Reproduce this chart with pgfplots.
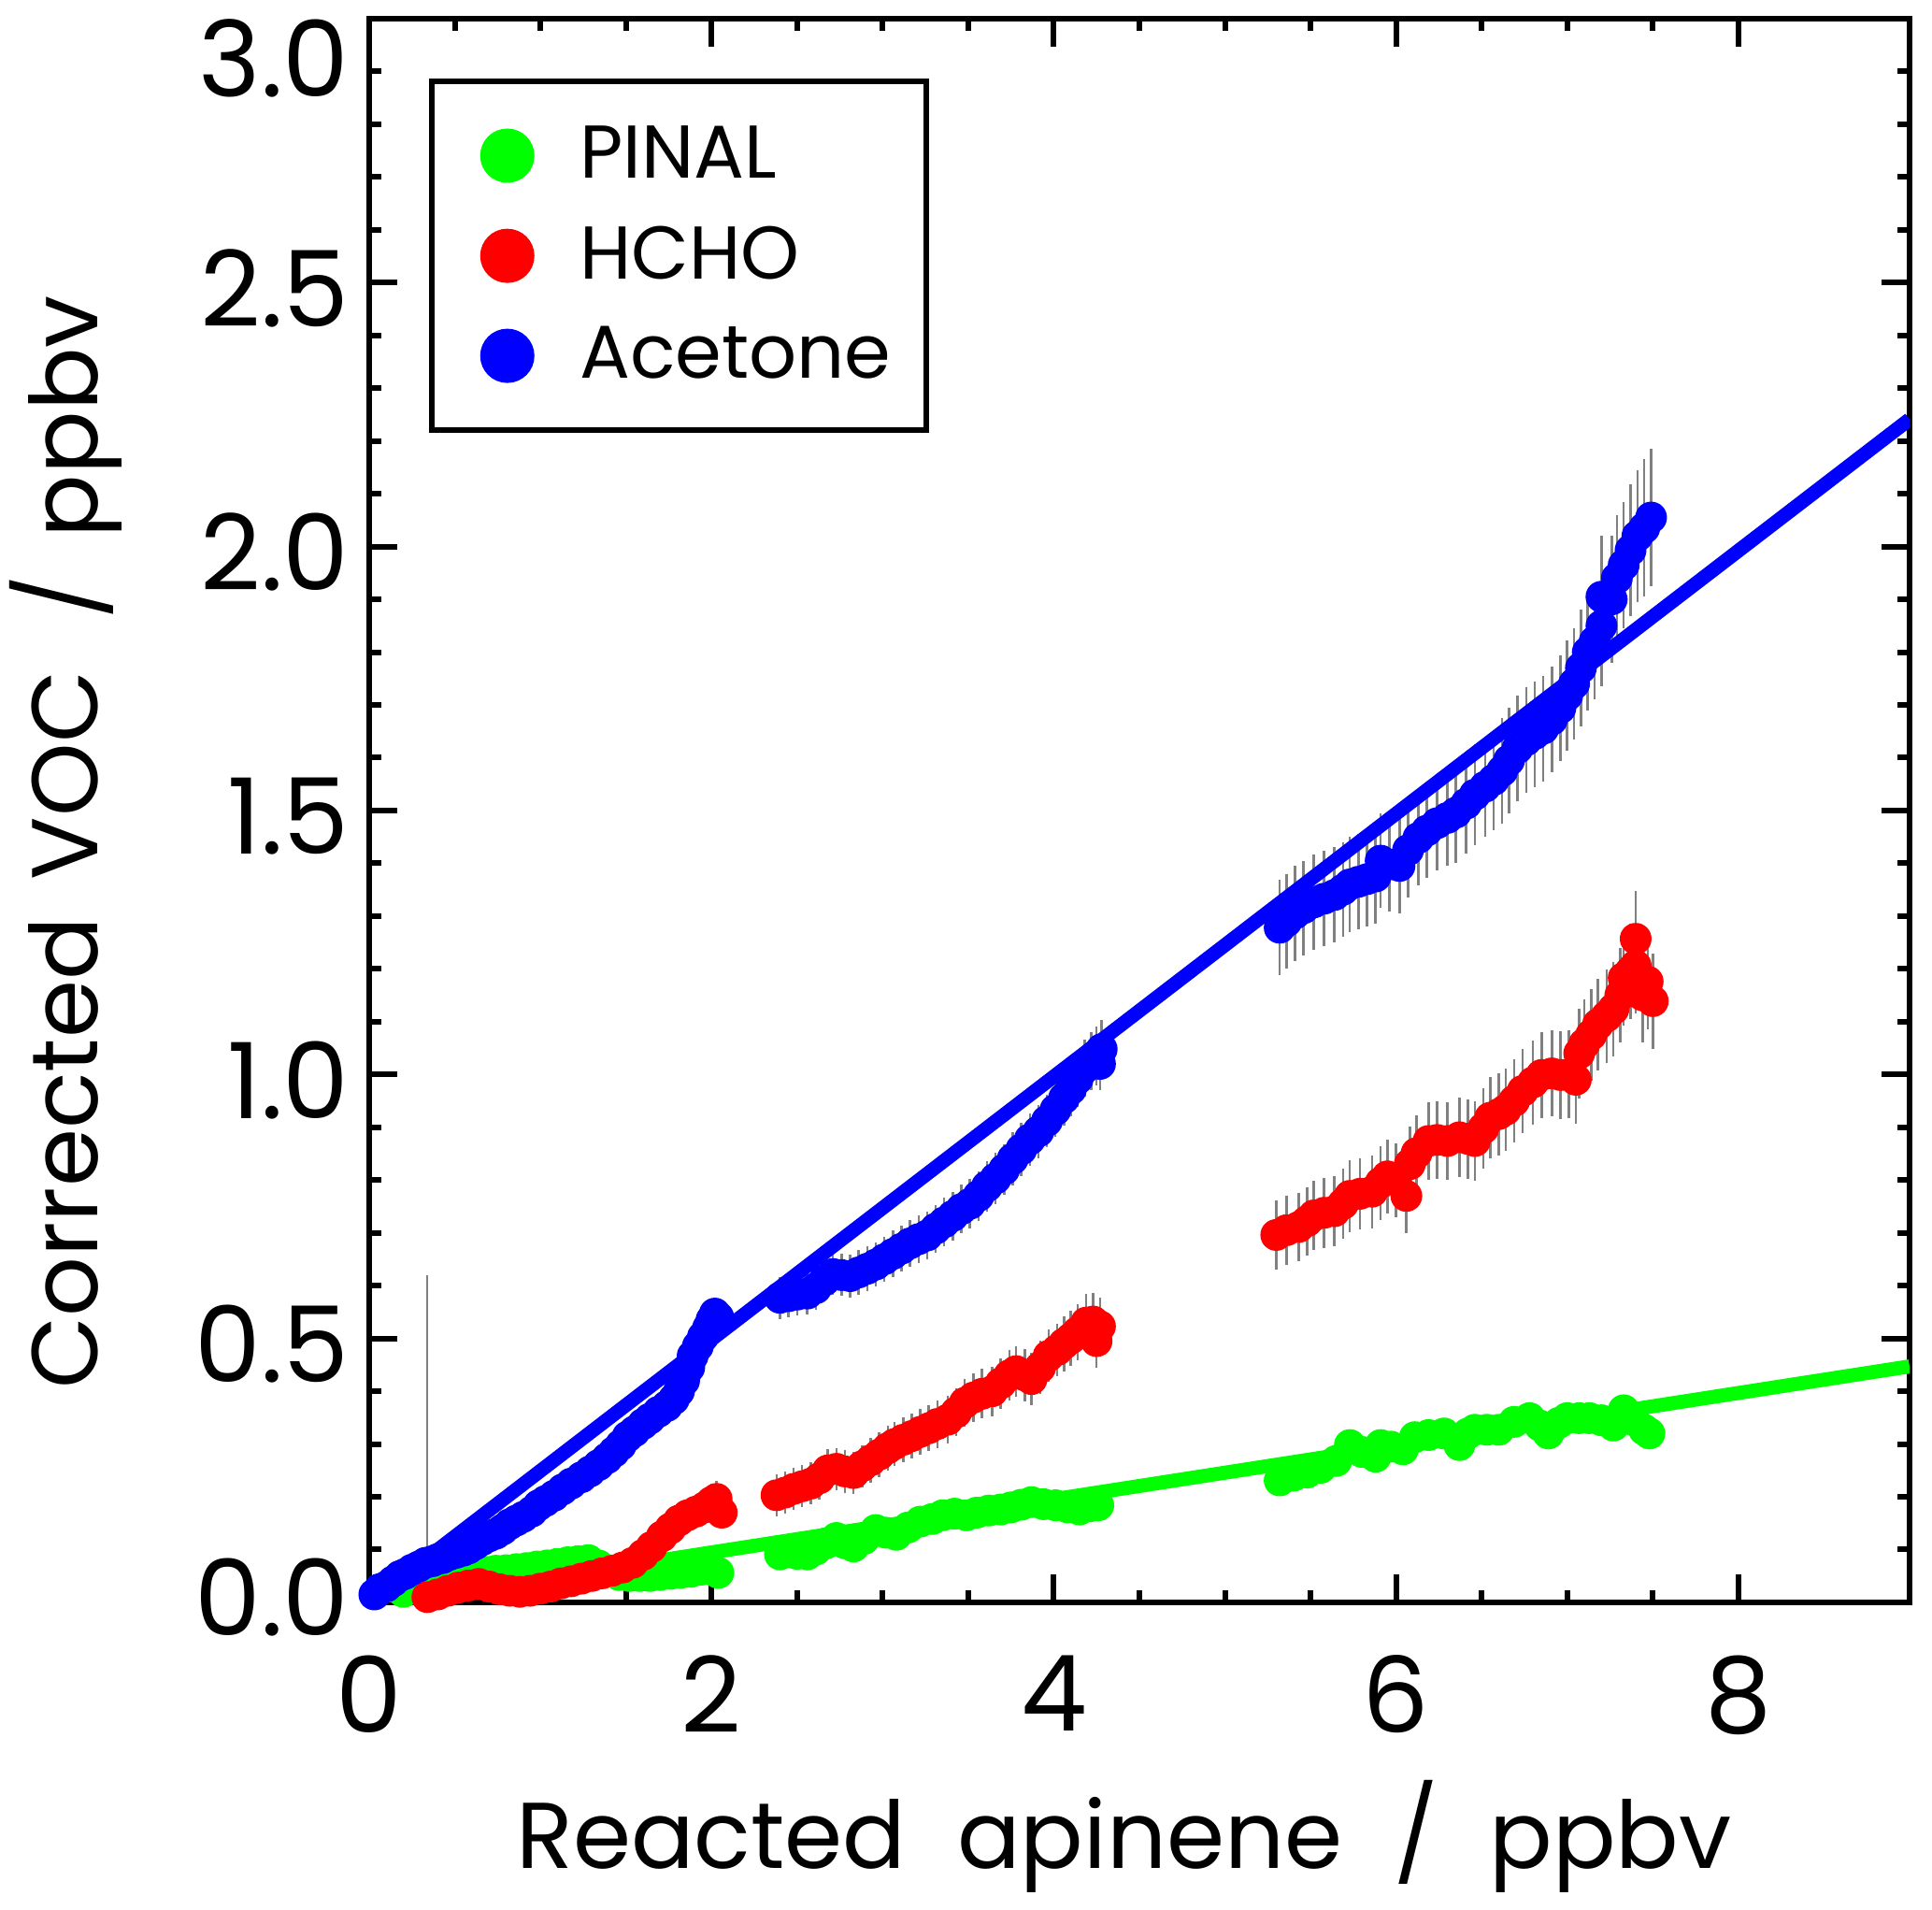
\documentclass[border=0pt]{standalone}
\usepackage{pgfplots}
\pgfplotsset{compat=1.18}
\usepackage{pgfplotstable}
\usepackage{fontspec}
\setmainfont{Poppins}
\definecolor{pgreen}{RGB}{0,255,0}
\definecolor{pred}{RGB}{255,0,0}
\definecolor{pblue}{RGB}{0,0,255}
\definecolor{ebar}{RGB}{128,128,128}

\pgfplotstableread{
x y e
0.03 0.015 0.01
0.06 0.025 0.01
0.10 0.030 0.01
0.14 0.040 0.01
0.18 0.050 0.01
0.21 0.054 0.01
0.25 0.062 0.01
0.29 0.068 0.01
0.33 0.075 0.01
0.37 0.078 0.01
0.40 0.082 0.01
0.43 0.084 0.01
0.47 0.090 0.01
0.51 0.094 0.01
0.55 0.098 0.01
0.58 0.102 0.01
0.62 0.110 0.01
0.66 0.118 0.01
0.70 0.125 0.01
0.74 0.130 0.012
0.78 0.138 0.012
0.82 0.148 0.012
0.86 0.155 0.012
0.90 0.162 0.012
0.95 0.172 0.012
0.99 0.184 0.012
1.03 0.192 0.012
1.08 0.202 0.014
1.13 0.214 0.014
1.18 0.225 0.014
1.24 0.237 0.014
1.29 0.248 0.015
1.34 0.260 0.015
1.39 0.273 0.015
1.43 0.285 0.016
1.47 0.298 0.016
1.51 0.314 0.016
1.55 0.324 0.017
1.60 0.338 0.017
1.64 0.348 0.018
1.69 0.361 0.018
1.74 0.372 0.018
1.78 0.385 0.020
1.81 0.400 0.020
1.84 0.420 0.020
1.87 0.445 0.020
1.89 0.467 0.022
1.92 0.485 0.022
1.95 0.503 0.025
1.98 0.520 0.025
2.00 0.535 0.030
2.02 0.547 0.030
2.04 0.540 0.030
2.40 0.577 0.040
2.45 0.580 0.040
2.50 0.583 0.040
2.56 0.585 0.040
2.61 0.595 0.040
2.66 0.610 0.040
2.71 0.622 0.040
2.76 0.620 0.040
2.81 0.618 0.040
2.86 0.625 0.042
2.91 0.632 0.042
2.96 0.640 0.042
3.01 0.650 0.042
3.06 0.660 0.044
3.11 0.670 0.044
3.16 0.680 0.044
3.21 0.688 0.045
3.26 0.695 0.045
3.31 0.708 0.045
3.36 0.720 0.046
3.41 0.732 0.046
3.46 0.745 0.046
3.51 0.755 0.047
3.56 0.770 0.047
3.61 0.788 0.048
3.66 0.803 0.048
3.71 0.820 0.048
3.76 0.840 0.050
3.81 0.858 0.050
3.86 0.877 0.050
3.91 0.892 0.050
3.96 0.912 0.050
4.01 0.933 0.052
4.06 0.955 0.052
4.10 0.972 0.052
4.14 0.992 0.053
4.18 1.012 0.054
4.22 1.025 0.055
4.25 1.035 0.055
4.28 1.048 0.055
4.27 1.020 0.050
5.32 1.278 0.090
5.36 1.290 0.090
5.41 1.305 0.090
5.46 1.315 0.090
5.52 1.326 0.090
5.58 1.333 0.090
5.64 1.340 0.090
5.69 1.350 0.090
5.73 1.360 0.090
5.78 1.365 0.090
5.83 1.370 0.090
5.88 1.375 0.090
5.91 1.405 0.090
5.96 1.398 0.090
6.02 1.395 0.090
6.07 1.425 0.090
6.13 1.448 0.090
6.18 1.462 0.090
6.24 1.476 0.090
6.30 1.486 0.090
6.35 1.496 0.095
6.41 1.513 0.095
6.46 1.530 0.095
6.52 1.545 0.095
6.57 1.558 0.095
6.62 1.575 0.100
6.66 1.595 0.100
6.71 1.618 0.100
6.76 1.633 0.100
6.81 1.645 0.100
6.86 1.655 0.100
6.91 1.672 0.100
6.96 1.694 0.100
7.00 1.718 0.105
7.04 1.740 0.105
7.08 1.770 0.110
7.12 1.800 0.110
7.16 1.820 0.110
7.20 1.850 0.115
7.20 1.905 0.115
7.26 1.900 0.120
7.29 1.940 0.120
7.33 1.965 0.120
7.37 1.993 0.125
7.41 2.020 0.125
7.45 2.035 0.130
7.49 2.055 0.130
}\acetone

\pgfplotstableread{
x y e
0.34 0.010 0.610
0.40 0.015 0.010
0.46 0.022 0.010
0.52 0.028 0.010
0.58 0.032 0.010
0.64 0.035 0.010
0.70 0.030 0.010
0.76 0.025 0.010
0.82 0.022 0.010
0.88 0.020 0.010
0.94 0.022 0.012
1.00 0.026 0.012
1.06 0.030 0.012
1.12 0.036 0.012
1.18 0.040 0.014
1.24 0.045 0.014
1.30 0.050 0.015
1.36 0.055 0.015
1.42 0.060 0.016
1.48 0.066 0.018
1.54 0.075 0.020
1.60 0.090 0.020
1.65 0.105 0.022
1.71 0.125 0.025
1.76 0.140 0.025
1.81 0.155 0.028
1.86 0.165 0.030
1.91 0.172 0.030
1.96 0.180 0.032
2.00 0.190 0.035
2.03 0.196 0.035
2.06 0.170 0.030
2.38 0.203 0.040
2.43 0.208 0.040
2.48 0.215 0.040
2.53 0.220 0.040
2.58 0.225 0.040
2.63 0.235 0.040
2.68 0.250 0.040
2.73 0.253 0.040
2.78 0.248 0.040
2.83 0.245 0.040
2.88 0.258 0.040
2.93 0.269 0.042
2.98 0.280 0.042
3.03 0.292 0.042
3.07 0.300 0.042
3.12 0.308 0.043
3.17 0.315 0.043
3.22 0.323 0.044
3.27 0.330 0.044
3.32 0.338 0.045
3.38 0.346 0.045
3.43 0.360 0.045
3.48 0.378 0.046
3.53 0.388 0.046
3.58 0.395 0.047
3.64 0.400 0.047
3.69 0.415 0.048
3.74 0.430 0.048
3.78 0.438 0.048
3.83 0.430 0.050
3.87 0.423 0.050
3.92 0.445 0.050
3.97 0.467 0.050
4.02 0.478 0.050
4.06 0.490 0.052
4.10 0.500 0.052
4.14 0.512 0.053
4.19 0.530 0.054
4.23 0.532 0.055
4.27 0.523 0.055
4.25 0.495 0.050
5.30 0.696 0.065
5.36 0.705 0.065
5.43 0.711 0.065
5.48 0.722 0.065
5.52 0.733 0.066
5.58 0.738 0.066
5.64 0.741 0.067
5.69 0.755 0.067
5.73 0.770 0.068
5.79 0.774 0.068
5.86 0.778 0.069
5.91 0.795 0.070
5.95 0.807 0.070
6.00 0.800 0.070
6.06 0.770 0.070
6.08 0.830 0.072
6.12 0.851 0.072
6.19 0.874 0.073
6.24 0.876 0.073
6.30 0.874 0.074
6.37 0.881 0.075
6.42 0.878 0.075
6.46 0.874 0.075
6.51 0.898 0.076
6.55 0.918 0.077
6.60 0.925 0.078
6.64 0.933 0.078
6.69 0.950 0.079
6.74 0.969 0.080
6.80 0.985 0.080
6.85 0.999 0.081
6.91 1.002 0.082
6.96 0.999 0.083
7.01 1.000 0.083
7.05 0.990 0.084
7.07 1.040 0.085
7.10 1.058 0.085
7.14 1.075 0.086
7.18 1.095 0.087
7.23 1.110 0.088
7.27 1.124 0.089
7.31 1.150 0.090
7.33 1.183 0.090
7.37 1.195 0.090
7.40 1.206 0.090
7.40 1.257 0.090
7.44 1.150 0.090
7.47 1.176 0.090
7.50 1.139 0.090
}\hcho

\pgfplotstableread{
x y e
0.20 0.020 0.010
0.26 0.028 0.010
0.32 0.035 0.010
0.38 0.042 0.010
0.44 0.048 0.010
0.50 0.052 0.010
0.56 0.054 0.010
0.62 0.056 0.010
0.68 0.058 0.010
0.74 0.060 0.010
0.80 0.061 0.010
0.86 0.063 0.010
0.92 0.065 0.010
0.98 0.068 0.010
1.04 0.070 0.010
1.10 0.073 0.010
1.16 0.076 0.010
1.22 0.078 0.010
1.28 0.080 0.010
1.34 0.070 0.010
1.40 0.060 0.010
1.46 0.052 0.010
1.52 0.050 0.010
1.58 0.050 0.010
1.64 0.050 0.010
1.70 0.052 0.010
1.76 0.054 0.010
1.82 0.056 0.010
1.88 0.058 0.010
1.94 0.062 0.010
2.00 0.062 0.010
2.04 0.056 0.010
2.40 0.091 0.015
2.45 0.095 0.015
2.50 0.092 0.015
2.56 0.091 0.015
2.61 0.100 0.015
2.67 0.112 0.015
2.73 0.122 0.015
2.78 0.112 0.015
2.83 0.106 0.015
2.89 0.120 0.015
2.96 0.137 0.015
3.02 0.132 0.015
3.08 0.128 0.015
3.15 0.142 0.015
3.22 0.153 0.015
3.29 0.158 0.015
3.35 0.165 0.015
3.42 0.168 0.015
3.49 0.165 0.015
3.55 0.170 0.015
3.62 0.174 0.015
3.69 0.176 0.015
3.75 0.180 0.015
3.81 0.185 0.015
3.87 0.190 0.015
3.94 0.186 0.015
4.01 0.184 0.015
4.08 0.180 0.015
4.15 0.176 0.015
4.21 0.182 0.015
4.26 0.184 0.015
5.32 0.231 0.020
5.40 0.240 0.020
5.48 0.246 0.020
5.56 0.255 0.020
5.65 0.268 0.020
5.73 0.298 0.020
5.80 0.285 0.020
5.88 0.276 0.020
5.91 0.298 0.020
5.97 0.295 0.020
6.04 0.290 0.020
6.11 0.313 0.020
6.19 0.317 0.020
6.28 0.320 0.020
6.37 0.298 0.020
6.42 0.320 0.020
6.46 0.327 0.020
6.53 0.327 0.020
6.60 0.327 0.020
6.69 0.342 0.020
6.78 0.349 0.020
6.84 0.335 0.020
6.89 0.320 0.020
6.95 0.340 0.020
7.00 0.349 0.020
7.07 0.349 0.020
7.13 0.349 0.020
7.20 0.345 0.020
7.27 0.335 0.020
7.33 0.364 0.020
7.39 0.345 0.020
7.45 0.327 0.020
7.48 0.320 0.020
}\pinal

\begin{document}
\begin{tikzpicture}
\useasboundingbox (0,0) rectangle (413.4pt,408.6pt);
\begin{axis}[
  at={(79pt,65.8pt)}, anchor=south west,
  scale only axis, width=329.6pt, height=338.8pt,
  xmin=0, xmax=9, ymin=0, ymax=3,
  xtick={0,2,4,6,8}, ytick={0,0.5,1,1.5,2,2.5,3},
  yticklabels={\raisebox{0pt}[\height][4.8pt]{0.0},0.5,1.0,1.5,2.0,2.5,\raisebox{0pt}[\dimexpr\height+14.6pt\relax][0pt]{3.0}},
  minor x tick num=3, minor y tick num=4,
  xtick pos=both, ytick pos=both,
  xticklabel pos=lower, yticklabel pos=left,
  tick align=inside,
  major tick length=6pt, minor tick length=2.6pt,
  every tick/.style={line width=1.2pt, black},
  axis line style={line width=1.3pt, black},
  /pgf/number format/assume math mode=true,
  ticklabel style={font=\fontsize{22.5}{22.5}\selectfont},
  xticklabel style={yshift=-7.8pt},
  yticklabel style={xshift=-0.8pt, yshift=-1.2pt},
  xlabel={Reacted\hspace{0.55em}apinene\hspace{0.55em}/\hspace{0.55em}ppbv},
  ylabel={Corrected\hspace{0.4em}VOC\hspace{0.55em}/\hspace{0.4em}ppbv},
  label style={font=\fontsize{20}{20}\selectfont},
  xlabel style={at={(axis description cs:0.49,0)}, anchor=base, yshift=-57pt},
  ylabel style={at={([xshift=-58pt]axis description cs:0,0.48)}, rotate=0, anchor=base},
  legend style={at={(axis description cs:0.039,0.962)}, anchor=north west,
    draw=black, line width=1.2pt, fill=white,
    inner xsep=7.6pt, inner ysep=7.5pt, row sep=4.7pt,
    nodes={inner xsep=0pt},
    /tikz/every odd column/.append style={column sep=9.7pt},
    font=\fontsize{16}{16}\selectfont},
  legend cell align=left,
]
\addlegendimage{legend image code/.code={\path (0pt,0pt); \fill[pgreen] (7.9pt,0pt) circle (5.2pt);}}
\addlegendentry{PINAL}
\addlegendimage{legend image code/.code={\path (0pt,0pt); \fill[pred] (7.9pt,0pt) circle (5.2pt);}}
\addlegendentry{HCHO}
\addlegendimage{legend image code/.code={\path (0pt,0pt); \fill[pblue] (7.9pt,0pt) circle (5.2pt);}}
\addlegendentry{Acetone}

\addplot[forget plot, only marks, mark=*, mark size=3.2pt, color=pgreen,
  error bars/.cd, y dir=both, y explicit, error mark=none,
  error bar style={line width=0.5pt, color=ebar}]
  table[x=x, y=y, y error=e] {\pinal};
\addplot[forget plot, only marks, mark=*, mark size=3.2pt, color=pred,
  error bars/.cd, y dir=both, y explicit, error mark=none,
  error bar style={line width=0.5pt, color=ebar}]
  table[x=x, y=y, y error=e] {\hcho};
\addplot[forget plot, only marks, mark=*, mark size=3.2pt, color=pblue,
  error bars/.cd, y dir=both, y explicit, error mark=none,
  error bar style={line width=0.5pt, color=ebar}]
  table[x=x, y=y, y error=e] {\acetone};
\addplot[forget plot, pblue, line width=3pt] coordinates {(0,0.0) (9,2.241)};
\addplot[forget plot, pgreen, line width=3pt] coordinates {(0,-0.006) (9,0.447)};
\end{axis}
\end{tikzpicture}
\end{document}
